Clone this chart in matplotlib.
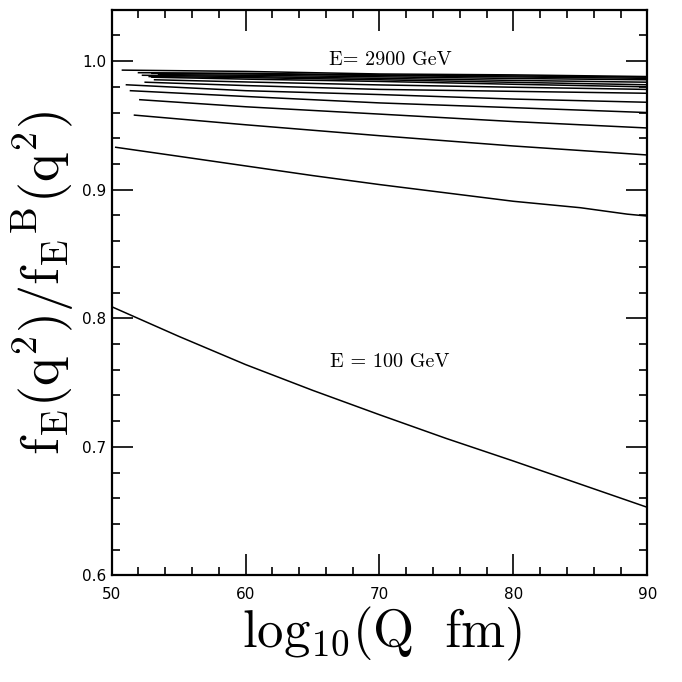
import matplotlib
matplotlib.use("Agg")
import matplotlib.pyplot as plt
from matplotlib.ticker import MultipleLocator, FormatStrFormatter

# =====================================================
# DATA
# =====================================================

energies = [100, 300, 500, 700, 900, 1100, 1300, 1500,
            1700, 1900, 2100, 2300, 2500, 2700, 2900]

# lowest two curves, read point by point
q_e100 = [50, 55, 60, 65, 70, 75, 80, 85, 90]
f_e100 = [0.809, 0.786, 0.764, 0.744, 0.725, 0.7065, 0.689, 0.671, 0.653]

q_e300 = [50.3, 55, 60, 65, 70, 75, 80, 85, 88.5, 90]
f_e300 = [0.933, 0.926, 0.9185, 0.911, 0.904, 0.8975, 0.891, 0.886, 0.881, 0.8795]

# the rest: first point of each curve, then values at q = 60, 70, 80, 90
q_start = [51.7, 52.1, 51.4, 51.1, 52.5, 53.2, 53.0,
           52.8, 52.3, 53.5, 53.0, 52.0, 50.8]
f_start = [0.958, 0.970, 0.977, 0.9816, 0.9836, 0.9855, 0.9875,
           0.988, 0.989, 0.9895, 0.9905, 0.991, 0.993]
q_grid = [60, 70, 80, 90]
f_grid = [
    [0.9505, 0.942, 0.934, 0.927],
    [0.9645, 0.9588, 0.953, 0.948],
    [0.9725, 0.9675, 0.9638, 0.960],
    [0.977, 0.974, 0.9705, 0.968],
    [0.981, 0.978, 0.9765, 0.975],
    [0.9838, 0.9815, 0.9797, 0.978],
    [0.986, 0.9842, 0.982, 0.980],
    [0.9872, 0.9855, 0.9835, 0.9816],
    [0.988, 0.9866, 0.985, 0.9836],
    [0.989, 0.9878, 0.9865, 0.9855],
    [0.990, 0.9888, 0.9877, 0.9866],
    [0.9905, 0.9893, 0.9885, 0.9875],
    [0.992, 0.990, 0.9893, 0.988],
]

# =====================================================
# FIGURE
# =====================================================

plt.rcParams["mathtext.fontset"] = "cm"

fig = plt.figure(figsize=(6.82, 6.82), dpi=100)
ax = fig.add_axes([0.1638, 0.1562, 0.7853, 0.8296])

ax.plot(q_e100, f_e100, color="black", lw=1.1)
ax.plot(q_e300, f_e300, color="black", lw=1.1)

for qs, fs, row in zip(q_start, f_start, f_grid):
    ax.plot([qs] + q_grid, [fs] + row, color="black", lw=1.1)

ax.text(70.8, 1.0008, "E= 2900 GeV", family="cmr10", fontsize=14.5,
        ha="center", va="center")
ax.text(70.8, 0.7662, "E = 100 GeV", family="cmr10", fontsize=14.5,
        ha="center", va="center")

ax.set_xlim(50, 90)
ax.set_ylim(0.6, 1.04)

ax.xaxis.set_major_locator(MultipleLocator(10))
ax.xaxis.set_minor_locator(MultipleLocator(2))
ax.yaxis.set_major_locator(MultipleLocator(0.1))
ax.yaxis.set_minor_locator(MultipleLocator(0.02))
ax.yaxis.set_major_formatter(FormatStrFormatter("%.1f"))

ax.tick_params(which="both", direction="in", top=True, right=True,
               labelsize=11, width=1.2)
ax.tick_params(which="major", length=15)
ax.tick_params(which="minor", length=5.5)
ax.tick_params(axis="x", pad=8)
ax.tick_params(axis="y", pad=4)

for side in ax.spines.values():
    side.set_linewidth(1.6)

fig.text(0.56, 0.07, r"$\mathrm{log_{10}(Q\ \ fm)}$", fontsize=38,
         ha="center", va="center")
fig.text(0.064, 0.585, r"$\mathrm{f_E(q^2)/f_E{}^B(q^2)}$", fontsize=39,
         ha="center", va="center", rotation=90)

plt.savefig("out.png", dpi=100)
